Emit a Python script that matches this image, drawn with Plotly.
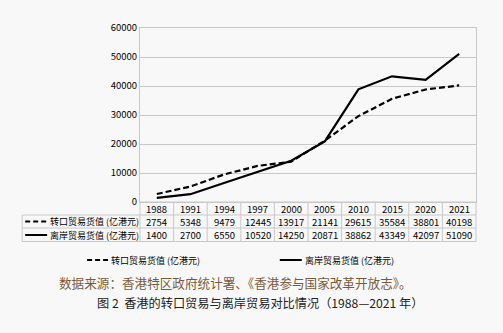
import plotly.graph_objects as go

years = ["1988", "1991", "1994", "1997", "2000", "2005", "2010", "2015", "2020", "2021"]
reexport = [2754, 5348, 9479, 12445, 13917, 21141, 29615, 35584, 38801, 40198]
offshore = [1400, 2700, 6550, 10520, 14250, 20871, 38862, 43349, 42097, 51090]
name_re = "转口贸易货值 (亿港元)"
name_off = "离岸贸易货值 (亿港元)"
source_text = "数据来源：香港特区政府统计署、《香港参与国家改革开放志》。"
caption_text = "图 2  香港的转口贸易与离岸贸易对比情况（1988—2021 年）"

W, H = 503, 333
L, R, T, B = 140, 476.5, 28, 202
PW, PH = R - L, B - T
def px(x):
    return (x - L) / PW
def py(y):
    return (B - y) / PH

font_sans = "Noto Sans CJK SC, DejaVu Sans, sans-serif"
n = len(years)

fig = go.Figure()
fig.add_trace(go.Scatter(x=years, y=reexport, mode="lines", name=name_re,
                         line=dict(color="black", width=2.2, dash="6px,3px")))
fig.add_trace(go.Scatter(x=years, y=offshore, mode="lines", name=name_off,
                         line=dict(color="black", width=2.2)))

shapes = []
ann = []
gc = "#c8c8c8"
row_y = [202, 215, 228, 241.5]
shapes.append(dict(type="line", xref="paper", yref="paper", x0=px(L), x1=px(R), y0=py(row_y[0]), y1=py(row_y[0]), line=dict(color=gc, width=1)))
for yy in row_y[1:]:
    shapes.append(dict(type="line", xref="paper", yref="paper", x0=px(22), x1=px(R), y0=py(yy), y1=py(yy), line=dict(color=gc, width=1)))
shapes.append(dict(type="line", xref="paper", yref="paper", x0=px(22), x1=px(22), y0=py(row_y[1]), y1=py(row_y[3]), line=dict(color=gc, width=1)))
for i in range(n + 1):
    xx = L + PW * i / n
    shapes.append(dict(type="line", xref="paper", yref="paper", x0=px(xx), x1=px(xx), y0=py(row_y[0]), y1=py(row_y[3]), line=dict(color=gc, width=1)))

tfont = dict(family=font_sans, size=9.5, color="black")
lfont = dict(family=font_sans, size=9, color="black")
def add_text(x, y, text, font, xref="paper", xanchor="center"):
    ann.append(dict(x=x, y=y, xref=xref, yref="paper", text=text, showarrow=False,
                    xanchor=xanchor, yanchor="middle", font=font))

for i, yr in enumerate(years):
    add_text(i, py(208.5), yr, tfont, xref="x")
    add_text(i, py(221.5), str(reexport[i]), tfont, xref="x")
    add_text(i, py(235), str(offshore[i]), tfont, xref="x")

shapes.append(dict(type="line", xref="paper", yref="paper", x0=px(25), x1=px(47), y0=py(221.5), y1=py(221.5), line=dict(color="black", width=2, dash="5px,3px")))
shapes.append(dict(type="line", xref="paper", yref="paper", x0=px(25), x1=px(47), y0=py(235), y1=py(235), line=dict(color="black", width=2)))
add_text(px(48), py(221.5), name_re, lfont, xanchor="left")
add_text(px(48), py(235), name_off, lfont, xanchor="left")

shapes.append(dict(type="line", xref="paper", yref="paper", x0=px(87), x1=px(108), y0=py(260), y1=py(260), line=dict(color="black", width=2, dash="5px,3px")))
shapes.append(dict(type="line", xref="paper", yref="paper", x0=px(280), x1=px(302), y0=py(260), y1=py(260), line=dict(color="black", width=2)))
add_text(px(109), py(260), name_re, lfont, xanchor="left")
add_text(px(303), py(260), name_off, lfont, xanchor="left")

add_text(px(57), py(282), source_text, dict(family=font_sans, size=12.6, color="#7a5a3a"), xanchor="left")
add_text(px(95), py(303), caption_text, dict(family=font_sans, size=12.2, color="#222222"), xanchor="left")

fig.update_layout(
    width=W, height=H,
    margin=dict(l=L, r=W - R, t=T, b=H - B),
    paper_bgcolor="#f8f8f8", plot_bgcolor="#f8f8f8",
    showlegend=False,
    shapes=shapes, annotations=ann,
    xaxis=dict(type="category", range=[-0.5, n - 0.5], autorange=False, showticklabels=False,
               showgrid=False, zeroline=False, showline=True, linecolor=gc, mirror=True, ticks=""),
    yaxis=dict(range=[0, 60000], dtick=10000, tickformat="d", showgrid=True, gridcolor=gc, gridwidth=1,
               zeroline=False, showline=True, linecolor=gc, mirror=True,
               tickfont=dict(family=font_sans, size=9.5, color="black"), ticks="", ticklen=0),
)
fig.write_html("out.html")
